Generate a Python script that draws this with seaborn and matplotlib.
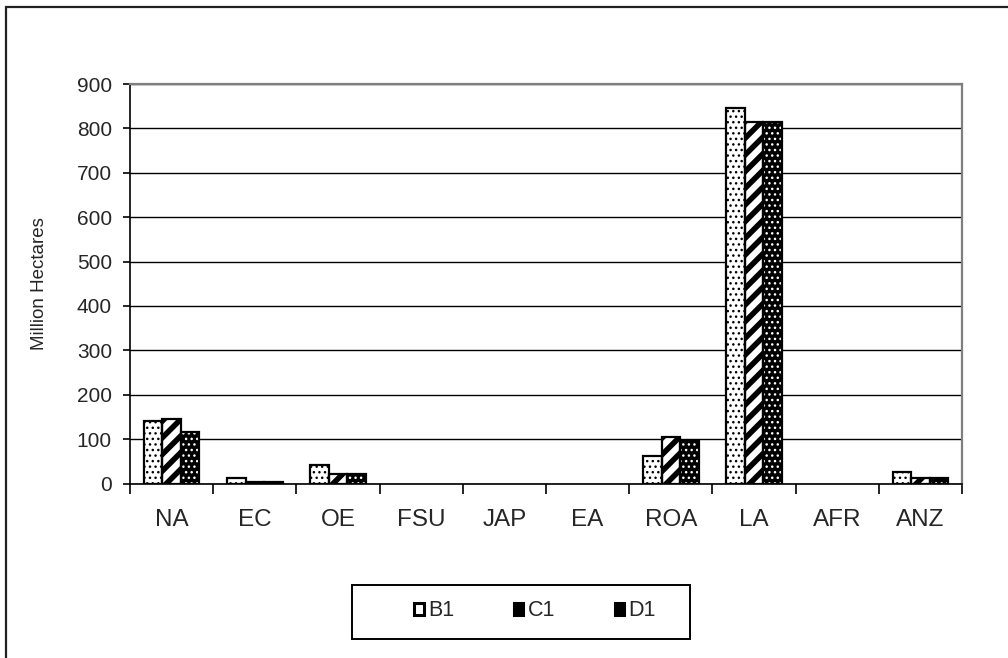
import numpy as np
import pandas as pd
import seaborn as sns
import matplotlib.pyplot as plt
from matplotlib.patches import Rectangle, Patch
from matplotlib.ticker import FixedLocator

# Land area by region under each scenario (million hectares)
regions = ["NA", "EC", "OE", "FSU", "JAP", "EA", "ROA", "LA", "AFR", "ANZ"]
scenarios = ["B1", "C1", "D1"]
b1_values = [140, 12, 42, 0, 0, 0, 62, 845, 0, 27]
c1_values = [145, 4, 22, 0, 0, 0, 105, 815, 0, 12]
d1_values = [116, 4, 22, 0, 0, 0, 96, 815, 0, 12]
y_ticks = [0, 100, 200, 300, 400, 500, 600, 700, 800, 900]
y_label = "Million Hectares"

df = pd.DataFrame({
    "region": regions * 3,
    "scenario": [s for s in scenarios for _ in regions],
    "value": b1_values + c1_values + d1_values,
})

sns.set_style("white")
plt.rcParams["font.family"] = ["Liberation Sans", "DejaVu Sans"]
plt.rcParams["hatch.linewidth"] = 1.0

W, H = 1008, 658
fig = plt.figure(figsize=(W / 100, H / 100), dpi=100)
ax = fig.add_axes([130 / W, 1 - 483.5 / H, 832 / W, 399.5 / H])

sns.barplot(
    data=df, x="region", y="value", hue="scenario", order=regions,
    hue_order=scenarios, palette={s: "white" for s in scenarios},
    edgecolor="black", linewidth=1.6, width=0.67, gap=0, saturation=1,
    legend=False, ax=ax, zorder=3,
)

styles = {
    "B1": dict(hatch="...", face="white", hatch_col="black", hlw=1.0),
    "C1": dict(hatch="//", face="white", hatch_col="black", hlw=4.0),
    "D1": dict(hatch="...", face="black", hatch_col="white", hlw=1.0),
}

for scen, cont in zip(scenarios, ax.containers):
    st = styles[scen]
    for p in cont.patches:
        p.set_facecolor(st["face"])
        p.set_edgecolor(st["hatch_col"])
        p.set_linewidth(0)
        p.set_hatch(st["hatch"])
        try:
            p.set_hatch_linewidth(st["hlw"])
        except AttributeError:
            pass
        if p.get_height() > 0:
            ax.add_patch(Rectangle(p.get_xy(), p.get_width(), p.get_height(),
                                   fill=False, edgecolor="black",
                                   linewidth=1.6, zorder=4))

# Axes styling
ax.set_ylim(0, 900)
ax.set_xlim(-0.5, len(regions) - 0.5)
ax.set_yticks(y_ticks)
ax.yaxis.grid(True, color="black", linewidth=1.0)
ax.xaxis.grid(False)
ax.set_axisbelow(True)
for side in ("top", "right"):
    ax.spines[side].set_color("#7f7f7f")
    ax.spines[side].set_linewidth(1.6)
for side in ("left", "bottom"):
    ax.spines[side].set_color("black")
    ax.spines[side].set_linewidth(1.2)

ax.tick_params(axis="y", which="major", left=True, length=5, width=1.2,
               color="black", labelsize=15, pad=8)
ax.xaxis.set_minor_locator(FixedLocator(np.arange(-0.5, len(regions), 1.0)))
ax.tick_params(axis="x", which="minor", bottom=True, length=7, width=1.2,
               color="black")
ax.tick_params(axis="x", which="major", bottom=False, length=0,
               labelsize=17.5, pad=18)
ax.set_xlabel("")
ax.set_ylabel(y_label, fontsize=13.5)
ax.yaxis.set_label_coords(-0.098, 0.5)

# Legend in a framed box below the chart
handles = []
for scen in scenarios:
    handles.append(Patch(facecolor="black" if scen != "B1" else "white",
                         edgecolor="black", linewidth=2.2, hatch=None))
fig.add_artist(Rectangle((352 / W, 1 - 639 / H), 338 / W, 54 / H,
                         transform=fig.transFigure, fill=False,
                         edgecolor="black", linewidth=1.4))
leg = fig.legend(handles, scenarios, loc="center",
                 bbox_to_anchor=(535 / W, 1 - 611 / H), ncol=3,
                 fontsize=15.5, frameon=False,
                 handlelength=0.45, handleheight=0.45, handletextpad=0.2,
                 columnspacing=2.77, borderpad=0, borderaxespad=0)

# Outer frame of the figure (left and top edges)
fig.add_artist(Rectangle((6 / W, -0.2), 1.2, 1.2 - 7 / H,
                         transform=fig.transFigure, fill=False,
                         edgecolor="#222222", linewidth=1.6))

fig.savefig("out.png", dpi=100)
